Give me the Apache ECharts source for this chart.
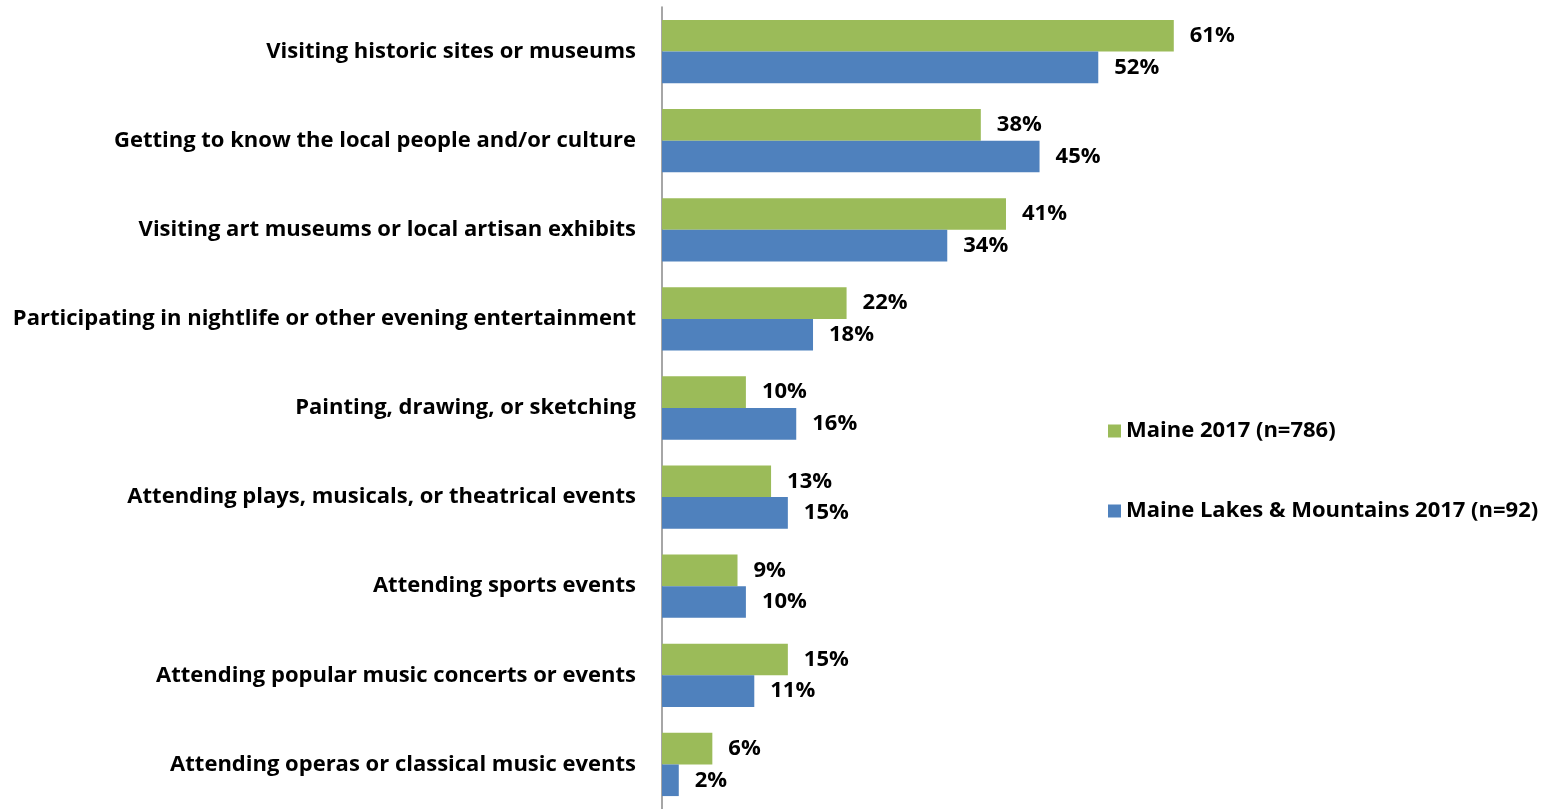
<!DOCTYPE html>
<html>
<head>
<meta charset="utf-8">
<script src="https://cdn.jsdelivr.net/npm/echarts@6/dist/echarts.min.js"></script>
<style>
  html, body { margin: 0; padding: 0; background: #fff; }
  #chart { width: 1559px; height: 809px; }
</style>
</head>
<body>
<div id="chart"></div>
<script>
// Cultural activities of visitors, share of respondents (%)
const categories = [
  'Visiting historic sites or museums',
  'Getting to know the local people and/or culture',
  'Visiting art museums or local artisan exhibits',
  'Participating in nightlife or other evening entertainment',
  'Painting, drawing, or sketching',
  'Attending plays, musicals, or theatrical events',
  'Attending sports events',
  'Attending popular music concerts or events',
  'Attending operas or classical music events'
];
const maine2017 = [61, 38, 41, 22, 10, 13, 9, 15, 6];
const lakesMountains2017 = [52, 45, 34, 18, 16, 15, 10, 11, 2];
const seriesNames = ['Maine 2017 (n=786)', 'Maine Lakes & Mountains 2017 (n=92)'];

const FONT = '"Open Sans", Lato, sans-serif';
const chart = echarts.init(document.getElementById('chart'));

const labelStyle = {
  show: true,
  position: 'right',
  distance: 16,
  formatter: p => p.value + '%',
  fontFamily: FONT,
  fontWeight: 'bold',
  fontSize: 22,
  color: '#000'
};

chart.setOption({
  animation: false,
  textStyle: { fontFamily: FONT },
  legend: {
    orient: 'vertical',
    left: 1103,
    top: 415,
    itemWidth: 13,
    itemHeight: 13,
    itemGap: 58,
    icon: 'rect',
    textStyle: { fontFamily: FONT, fontWeight: 'bold', fontSize: 22, color: '#000' },
    data: seriesNames
  },
  grid: { left: 662, right: 58, top: 7, bottom: -6, containLabel: false },
  xAxis: {
    type: 'value',
    min: 0,
    max: 100,
    show: false
  },
  yAxis: {
    type: 'category',
    inverse: true,
    data: categories,
    axisLine: { show: true, lineStyle: { color: '#888', width: 1.5 } },
    axisTick: { show: false },
    axisLabel: {
      margin: 26,
      fontFamily: FONT,
      fontWeight: 'bold',
      fontSize: 22,
      color: '#000'
    }
  },
  series: [
    {
      name: seriesNames[0],
      type: 'bar',
      data: maine2017,
      barGap: '0%',
      barCategoryGap: '29%',
      itemStyle: { color: '#9BBB59' },
      label: labelStyle
    },
    {
      name: seriesNames[1],
      type: 'bar',
      data: lakesMountains2017,
      itemStyle: { color: '#4F81BD' },
      label: labelStyle
    }
  ]
});
</script>
</body>
</html>
